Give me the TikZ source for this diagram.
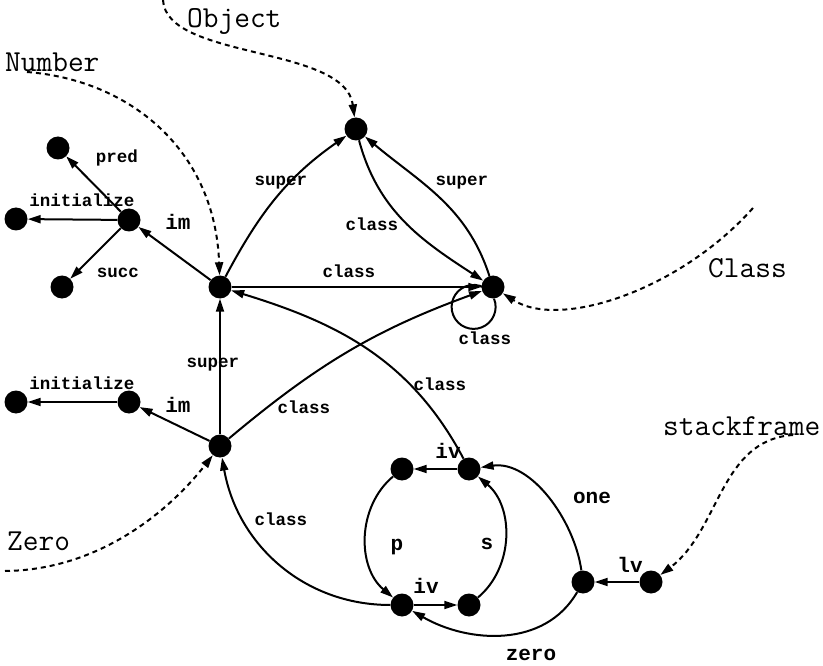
\documentclass[tikz,border=0pt]{standalone}
\usepackage{fontspec}
\newfontfamily\monofont{Liberation Mono}
\usetikzlibrary{arrows.meta}
\begin{document}
\begin{tikzpicture}[x=1pt,y=1pt,
  dot/.style={circle, fill=black, minimum size=23pt, inner sep=0pt},
  link/.style={line width=2pt, -{Triangle[length=13pt,width=8pt]}},
  plain/.style={line width=2pt},
  ptr/.style={line width=2pt, dash pattern=on 5pt off 4pt, -{Triangle[length=13pt,width=8pt]}},
  lbs/.style={font=\monofont\bfseries\fontsize{17.5}{20}\selectfont, anchor=base, inner sep=0pt},
  lbm/.style={font=\monofont\bfseries\fontsize{21}{24}\selectfont, anchor=base, inner sep=0pt},
  objname/.style={font=\ttfamily\fontsize{30.5}{34}\selectfont, anchor=base west, inner sep=0pt}]
\useasboundingbox (0,0) rectangle (823,-666);

% objects
\node[dot] (Obj)   at (356,-129) {};
\node[dot] (N)     at (220,-287) {};
\node[dot] (C)     at (493,-287) {};
\node[dot] (NIM)   at (129,-220) {};
\node[dot] (pred)  at (58,-148) {};
\node[dot] (init1) at (16,-219) {};
\node[dot] (succ)  at (62,-287) {};
\node[dot] (Z)     at (220,-446) {};
\node[dot] (ZIM)   at (129,-402) {};
\node[dot] (init2) at (16,-402) {};
\node[dot] (a)     at (402,-469) {};
\node[dot] (b)     at (469,-469) {};
\node[dot] (c)     at (402,-605) {};
\node[dot] (d)     at (469,-605) {};
\node[dot] (e)     at (583,-582) {};
\node[dot] (f)     at (651,-582) {};

% Number's method dictionary
\draw[link] (NIM) -- (pred) node[lbs] (lpred) at (117,-163) {pred};
\draw[link] (NIM) -- (init1) node[lbs] (linit1) at (82,-207) {initialize};
\draw[link] (NIM) -- (succ) node[lbs] (lsucc) at (118,-277) {succ};
\draw[link] (N) -- (NIM) node[lbm] (lim1) at (178,-230) {im};

% class / super links
\draw[link] (N) to[out=62,in=215] (Obj) node[lbs] (lsup1) at (281,-186) {super};
\draw[link] (Obj) to[out=-75,in=147] (C) node[lbs] (lcls1) at (372,-231) {class};
\draw[link] (C) to[out=108,in=-40] (Obj) node[lbs] (lsup2) at (462,-186) {super};
\draw[link] (N) -- (C) node[lbs] (lcls2) at (349,-277) {class};
\draw[plain] (C.-85) arc[start angle=22, end angle=-300, radius=22]
  node[lbs] (lcls3) at (485,-344) {class};
\draw[link] (Z) -- (N) node[lbs] (lsup3) at (213,-367) {super};
\draw[link] (Z) to[out=40,in=200] (C) node[lbs] (lcls4) at (304,-413) {class};

% Zero's method dictionary
\draw[link] (Z) -- (ZIM) node[lbm] (lim2) at (178,-412) {im};
\draw[link] (ZIM) -- (init2) node[lbs] (linit2) at (82,-389) {initialize};

% instances
\draw[link] (b) to[out=118,in=-17] (N) node[lbs] (lcls5) at (440,-390) {class};
\draw[link] (c) to[out=180,in=-80] (Z) node[lbs] (lcls6) at (281,-525) {class};
\draw[link] (b) -- (a) node[lbm] (liv1) at (448,-458) {iv};
\draw[link] (a) to[out=-140,in=140] (c) node[lbm] (lp) at (397,-550) {p};
\draw[link] (c) -- (d) node[lbm] (liv2) at (426,-593) {iv};
\draw[link] (d) to[out=40,in=-40] (b) node[lbm] (ls) at (487,-549) {s};
\draw[link] (e) to[out=98,in=8,looseness=0.9] (b) node[lbm] (lone) at (592,-503) {one};
\draw[link] (e) to[out=-120,in=-30] (c) node[lbm] (lzero) at (531,-660) {zero};
\draw[link] (f) -- (e) node[lbm] (llv) at (630,-572) {lv};

% names pointing at objects
\coordinate (objtail) at (163,0);
\coordinate (numtail) at (27,-72);
\coordinate (clstail) at (753,-208);
\coordinate (zrotail) at (5,-571);
\coordinate (stktail) at (793,-435);
\draw[ptr] (objtail) .. controls (166,-60) and (345,-45) .. (Obj);
\draw[ptr] (numtail) .. controls (130,-80) and (215,-150) .. (N);
\draw[ptr] (clstail) .. controls (680,-290) and (560,-330) .. (C);
\draw[ptr] (zrotail) .. controls (100,-570) and (170,-510) .. (Z);
\draw[ptr] (stktail) .. controls (720,-440) and (720,-530) .. (f);
\node[objname] (tObject) at (187,-27.5) {Object};
\node[objname] (tNumber) at (5,-72) {Number};
\node[objname] (tClass)  at (708,-277) {Class};
\node[objname] (tZero)   at (7,-550) {Zero};
\node[objname] (tStack)  at (663,-435) {stackframe};
\end{tikzpicture}
\end{document}
